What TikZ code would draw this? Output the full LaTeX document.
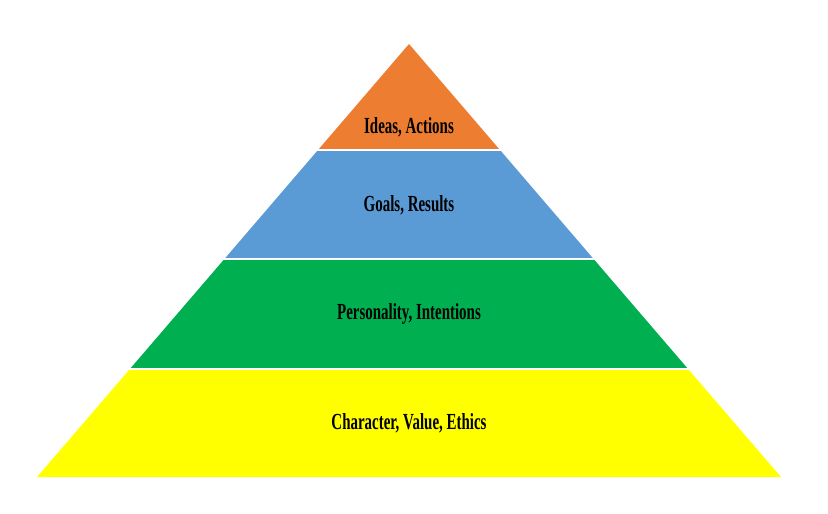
\documentclass[tikz,border=0pt]{standalone}
\usepackage{fontspec}
\setmainfont{Liberation Serif}
\definecolor{cOrange}{HTML}{ED7D31}
\definecolor{cBlue}{HTML}{5B9BD5}
\definecolor{cGreen}{HTML}{00B050}
\definecolor{cYellow}{HTML}{FFFF00}
\newcommand{\lbl}[1]{\scalebox{0.65}[1]{\bfseries #1}}
\begin{document}
\begin{tikzpicture}[x=1pt,y=-1pt,
  lab/.style={inner sep=0pt,font=\fontsize{23}{27}\selectfont,text=black}]
\useasboundingbox (0,0) rectangle (828,514);
% left edge x(y) = 409 - 372*(y-44)/433
\fill[cOrange] (409,44) -- (500,150) -- (318,150) -- cycle;
\fill[cBlue] (318,150) -- (500,150) -- (593.6,259) -- (224.4,259) -- cycle;
\fill[cGreen] (224.4,259) -- (593.6,259) -- (688.1,369) -- (129.9,369) -- cycle;
\fill[cYellow] (129.9,369) -- (688.1,369) -- (781,477) -- (37,477) -- cycle;
\draw[white,line width=2.5pt] (300,150) -- (520,150);
\draw[white,line width=2.5pt] (210,259) -- (610,259);
\draw[white,line width=2.5pt] (110,369) -- (710,369);
\node[lab] (t1) at (409,127) {\lbl{Ideas, Actions}};
\node[lab] (t2) at (409,205) {\lbl{Goals, Results}};
\node[lab] (t3) at (409,314) {\lbl{Personality, Intentions}};
\node[lab] (t4) at (409,423) {\lbl{Character, Value, Ethics}};
\end{tikzpicture}
\end{document}
